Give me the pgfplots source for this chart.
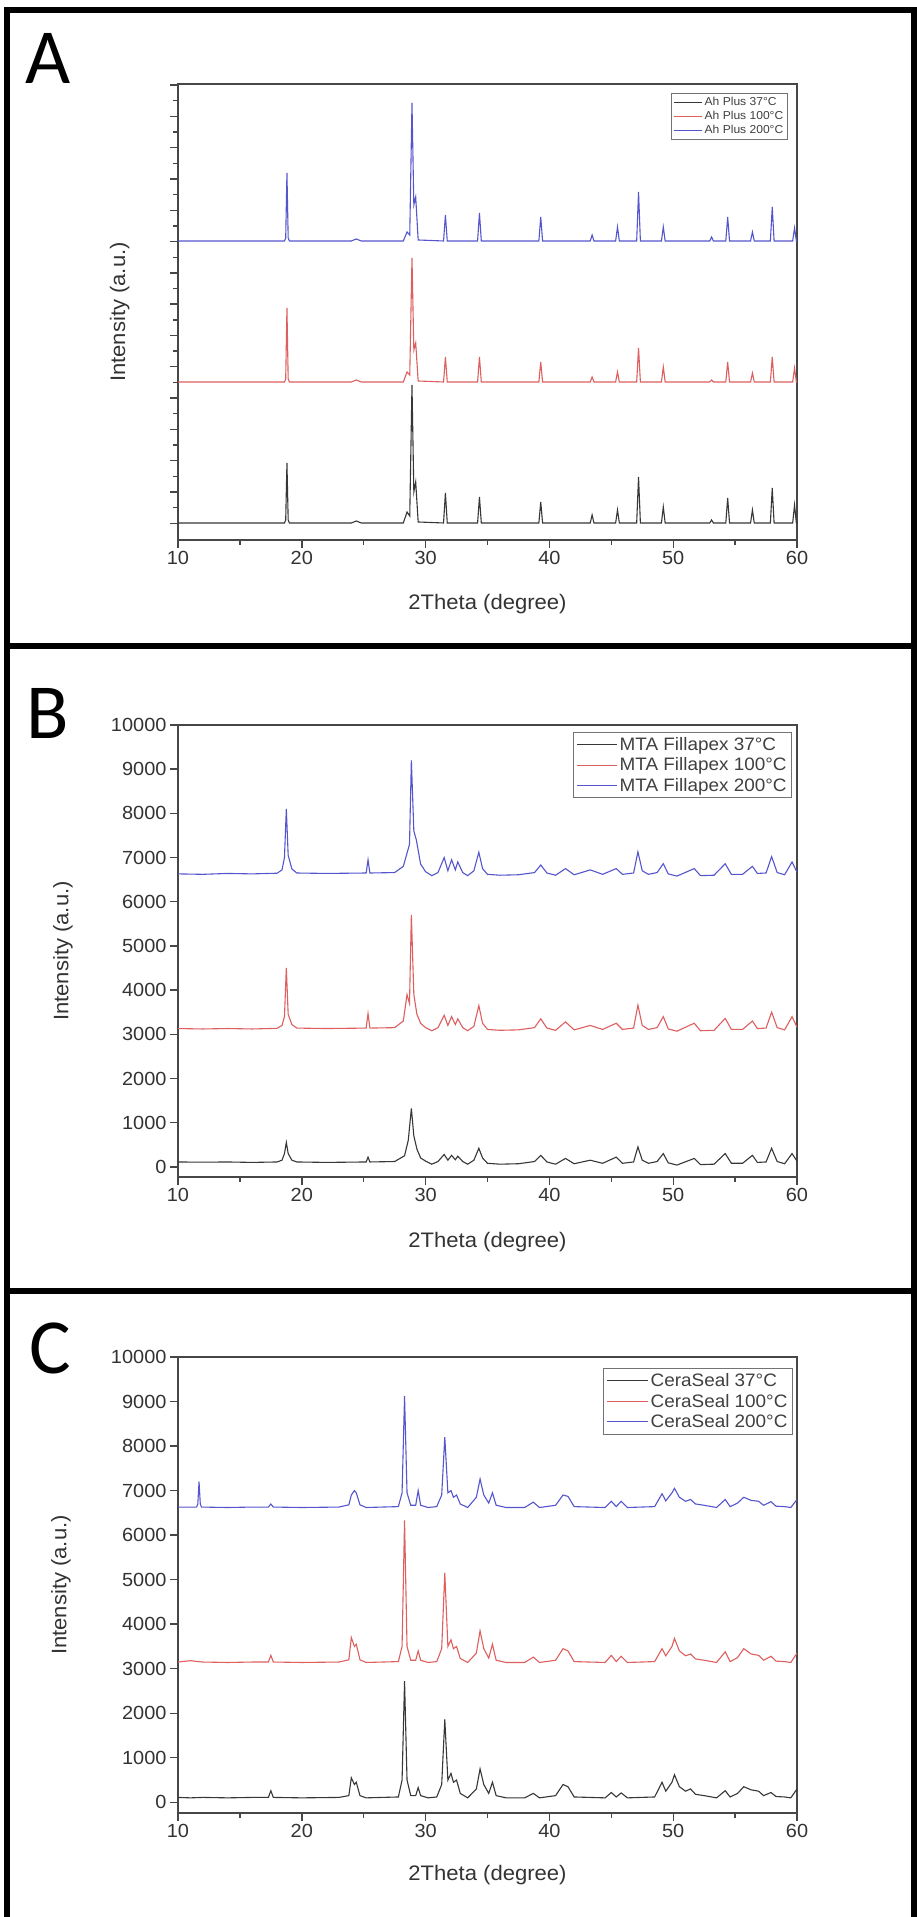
\documentclass[border=0pt]{standalone}
\usepackage{fontspec}
\setmainfont{Liberation Sans}[FakeStretch=1.05]
\newfontfamily\lblfont{Carlito}
\usepackage{pgfplots}
\pgfplotsset{compat=1.18}
\definecolor{mblack}{RGB}{55,55,55}
\definecolor{mred}{RGB}{222,95,95}
\definecolor{mblue}{RGB}{85,85,205}
\pgfplotsset{
  xrd/.style={
    scale only axis, width=619pt,
    xmin=10, xmax=60, xtick={10,20,...,60}, minor x tick num=1,
    tick align=outside, tick pos=left,
    major tick length=8pt, minor tick length=5pt,
    axis line style={line width=1.6pt, black!72},
    tick style={line width=1.4pt, black!72},
    ticklabel style={font=\fontsize{19}{21}\selectfont, text=black!80},
    scaled y ticks=false, scaled x ticks=false,
    /pgf/number format/assume math mode=true,
    /pgf/number format/1000 sep={},
    xlabel={2Theta (degree)}, ylabel={Intensity (a.u.)},
    label style={font=\fontsize{21}{24}\selectfont, text=black!80},
    legend cell align=left,
  },
  s1/.style={mblack, line width=1.1pt},
  s2/.style={mred, line width=1.1pt},
  s3/.style={mblue, line width=1.1pt},
}
\begin{document}
\begin{tikzpicture}[x=1pt,y=1pt]
\useasboundingbox (0,0) rectangle (917,1917);
\fill[white] (0,0) rectangle (917,1917);
% panel borders
\draw[line width=6pt] (7,1907) rectangle (914,1271);
\draw[line width=6pt] (7,1271) rectangle (914,626);
\draw[line width=6pt] (7,626) -- (7,-10) (914,626) -- (914,-10);
\node[font=\lblfont\fontsize{78}{80}\selectfont] at (48,1859) {A};
\node[font=\lblfont\fontsize{78}{80}\selectfont] at (48,1204) {B};
\node[font=\lblfont\fontsize{78}{80}\selectfont] at (50,569) {C};

% ---------------- Panel A ----------------
\begin{axis}[xrd, at={(178pt,1377pt)}, anchor=south west, height=456pt,
  ymin=0, ymax=456,
  ytick={16.7,48.0,...,440}, minor y tick num=1, yticklabels={},
  xlabel style={at={(axis description cs:0.5,-0.14)}, anchor=center},
  ylabel style={at={(axis description cs:-0.094,0.5)}, anchor=center},
  legend style={at={(0.985,0.980)}, anchor=north east, draw=black!55, line width=0.8pt,
    font=\fontsize{11.5}{14}\selectfont, text=black!75, inner sep=2pt, row sep=0pt},
  legend image code/.code={\draw[#1, line width=0.8pt] (0pt,0pt) -- (28pt,0pt);},
]
\addplot[s1] coordinates {(10,17)(18.6,17)(18.7,20)(18.8,77)(18.9,20)(19.0,17)(24.0,17)(24.4,19)(24.8,17)(28.2,17)(28.5,28)(28.72,24)(28.9,155)(29.05,48)(29.2,58)(29.4,18)(31.45,17)(31.6,47)(31.75,17)(34.2,17)(34.35,43)(34.5,17)(39.15,17)(39.3,38)(39.45,17)(43.3,17)(43.45,25)(43.6,17)(45.35,17)(45.5,30)(45.65,17)(47.05,17)(47.2,63)(47.35,17)(49.05,17)(49.2,33)(49.35,17)(52.95,17)(53.1,20)(53.25,17)(54.25,17)(54.4,42)(54.55,17)(56.25,17)(56.4,30)(56.55,17)(57.85,17)(58.0,52)(58.15,17)(59.65,17)(59.8,35)(59.95,17)(60,17)};
\addlegendentry{Ah Plus 37°C}
\addplot[s2] coordinates {(10,158)(18.6,158)(18.7,161)(18.8,232)(18.9,161)(19.0,158)(24.0,158)(24.4,160)(24.8,158)(28.2,158)(28.5,168)(28.72,165)(28.9,282)(29.05,190)(29.2,197)(29.4,159)(31.45,158)(31.6,183)(31.75,158)(34.2,158)(34.35,183)(34.5,158)(39.15,158)(39.3,178)(39.45,158)(43.3,158)(43.45,163)(43.6,158)(45.35,158)(45.5,168)(45.65,158)(47.05,158)(47.2,192)(47.35,158)(49.05,158)(49.2,173)(49.35,158)(52.95,158)(53.1,160)(53.25,158)(54.25,158)(54.4,178)(54.55,158)(56.25,158)(56.4,167)(56.55,158)(57.85,158)(58.0,183)(58.15,158)(59.65,158)(59.8,172)(59.95,158)(60,158)};
\addlegendentry{Ah Plus 100°C}
\addplot[s3] coordinates {(10,299)(18.6,299)(18.7,302)(18.8,367)(18.9,302)(19.0,299)(24.0,299)(24.4,301)(24.8,299)(28.2,299)(28.5,308)(28.72,305)(28.9,437)(29.05,335)(29.2,343)(29.4,300)(31.45,299)(31.6,325)(31.75,299)(34.2,299)(34.35,327)(34.5,299)(39.15,299)(39.3,323)(39.45,299)(43.3,299)(43.45,305)(43.6,299)(45.35,299)(45.5,313)(45.65,299)(47.05,299)(47.2,348)(47.35,299)(49.05,299)(49.2,313)(49.35,299)(52.95,299)(53.1,303)(53.25,299)(54.25,299)(54.4,323)(54.55,299)(56.25,299)(56.4,308)(56.55,299)(57.85,299)(58.0,333)(58.15,299)(59.65,299)(59.8,312)(59.95,299)(60,299)};
\addlegendentry{Ah Plus 200°C}
\end{axis}

% ---------------- Panel B ----------------
\begin{axis}[xrd, at={(178pt,740pt)}, anchor=south west, height=452pt,
  ymin=-230, ymax=10000, ytick={0,1000,...,10000},
  xlabel style={at={(axis description cs:0.5,-0.144)}, anchor=center},
  ylabel style={at={(axis description cs:-0.186,0.5)}, anchor=center},
  legend style={at={(0.992,0.985)}, anchor=north east, draw=black!55, line width=1pt,
    font=\fontsize{18}{21}\selectfont, text=black!75, inner sep=3pt, row sep=2pt},
  legend image code/.code={\draw[#1, line width=1pt] (0pt,0pt) -- (40pt,0pt);},
]
\addplot[s1] coordinates {(10,110)(12,105)(14,110)(16,100)(18,110)(18.4,150)(18.6,300)(18.75,550)(18.9,300)(19.2,150)(19.6,110)(22,100)(25.2,110)(25.35,220)(25.5,110)(27.5,120)(28.3,250)(28.6,600)(28.85,1320)(29.05,700)(29.3,400)(29.6,200)(30,130)(30.5,60)(31,120)(31.5,280)(31.8,150)(32.1,260)(32.4,160)(32.6,240)(33,120)(33.4,60)(33.9,150)(34.3,420)(34.6,200)(35,80)(36,60)(37.5,70)(38.8,120)(39.3,260)(39.8,110)(40.5,60)(41.3,190)(42,70)(43.3,150)(44.3,80)(45.4,220)(45.9,80)(46.8,110)(47.15,450)(47.5,150)(48,80)(48.7,120)(49.2,300)(49.6,90)(50.3,40)(51.7,190)(52.2,50)(53.3,60)(54.2,300)(54.7,80)(55.6,80)(56.4,260)(56.8,100)(57.5,110)(57.95,420)(58.4,120)(59,70)(59.6,300)(60,130)};
\addlegendentry{MTA Fillapex 37°C}
\addplot[s2] coordinates {(10,3130)(12,3120)(14,3130)(16,3120)(18,3135)(18.4,3200)(18.6,3400)(18.75,4500)(18.9,3450)(19.2,3220)(19.6,3140)(22,3130)(25.2,3140)(25.35,3470)(25.5,3140)(27.5,3150)(28.2,3300)(28.5,3900)(28.7,3700)(28.85,5700)(29.05,3900)(29.3,3450)(29.6,3250)(30,3150)(30.5,3080)(31,3150)(31.5,3430)(31.8,3200)(32.1,3400)(32.4,3220)(32.6,3350)(33,3150)(33.4,3080)(33.9,3180)(34.3,3650)(34.6,3250)(35,3110)(36,3090)(37.5,3100)(38.8,3150)(39.3,3350)(39.8,3140)(40.5,3090)(41.3,3280)(42,3100)(43.3,3200)(44.3,3110)(45.4,3250)(45.9,3110)(46.8,3140)(47.15,3660)(47.5,3200)(48,3110)(48.7,3150)(49.2,3400)(49.6,3120)(50.3,3070)(51.7,3250)(52.2,3080)(53.3,3090)(54.2,3360)(54.7,3110)(55.6,3110)(56.4,3300)(56.8,3130)(57.5,3140)(57.95,3500)(58.4,3150)(59,3100)(59.6,3400)(60,3160)};
\addlegendentry{MTA Fillapex 100°C}
\addplot[s3] coordinates {(10,6630)(12,6620)(14,6640)(16,6630)(18,6645)(18.4,6720)(18.6,7000)(18.75,8100)(18.9,7050)(19.2,6740)(19.6,6650)(22,6640)(25.2,6650)(25.35,6950)(25.5,6650)(27.5,6660)(28.2,6800)(28.5,7100)(28.7,7300)(28.85,9200)(29.05,7600)(29.25,7400)(29.6,6850)(30,6680)(30.5,6590)(31,6660)(31.5,7000)(31.8,6700)(32.1,6950)(32.4,6720)(32.6,6900)(33,6660)(33.4,6590)(33.9,6700)(34.3,7120)(34.6,6750)(35,6620)(36,6600)(37.5,6610)(38.8,6660)(39.3,6830)(39.8,6650)(40.5,6600)(41.3,6750)(42,6610)(43.3,6720)(44.3,6620)(45.4,6750)(45.9,6620)(46.8,6650)(47.15,7130)(47.5,6700)(48,6620)(48.7,6660)(49.2,6860)(49.6,6630)(50.3,6580)(51.7,6750)(52.2,6590)(53.3,6600)(54.2,6860)(54.7,6620)(55.6,6620)(56.4,6800)(56.8,6640)(57.5,6650)(57.95,7020)(58.4,6660)(59,6610)(59.6,6900)(60,6670)};
\addlegendentry{MTA Fillapex 200°C}
\end{axis}

% ---------------- Panel C ----------------
\begin{axis}[xrd, at={(178pt,104pt)}, anchor=south west, height=456pt,
  ymin=-240, ymax=10000, ytick={0,1000,...,10000},
  xlabel style={at={(axis description cs:0.5,-0.136)}, anchor=center},
  ylabel style={at={(axis description cs:-0.189,0.5)}, anchor=center},
  legend style={at={(0.9935,0.976)}, anchor=north east, draw=black!55, line width=1pt,
    font=\fontsize{18}{21}\selectfont, text=black!75, inner sep=3pt, row sep=2pt},
  legend image code/.code={\draw[#1, line width=1pt] (0pt,0pt) -- (41pt,0pt);},
]
\addplot[s1] coordinates {(10,110)(11,100)(12,110)(14,100)(16,110)(17.3,110)(17.5,260)(17.7,110)(20,100)(23,110)(23.8,150)(24.0,550)(24.25,400)(24.4,450)(24.7,150)(25.2,100)(27.8,120)(28.1,500)(28.3,2720)(28.5,500)(28.8,150)(29.2,150)(29.4,330)(29.6,150)(30.2,100)(30.9,120)(31.3,400)(31.55,1860)(31.8,500)(32.05,650)(32.25,450)(32.5,500)(32.8,200)(33.4,100)(34.1,300)(34.4,750)(34.7,400)(35.1,200)(35.4,450)(35.7,150)(36.5,100)(38,100)(38.7,200)(39.2,100)(40.5,150)(41.1,400)(41.5,350)(42,120)(44.5,100)(45.0,220)(45.4,120)(45.8,210)(46.3,100)(48.5,120)(49.1,450)(49.4,250)(49.9,450)(50.1,620)(50.5,350)(51,250)(51.4,300)(51.8,180)(52.5,150)(53.5,100)(54.2,260)(54.6,120)(55.2,200)(55.7,350)(56.3,280)(56.9,250)(57.3,150)(57.9,220)(58.3,130)(59,120)(59.5,100)(60,300)};
\addlegendentry{CeraSeal 37°C}
\addplot[s2] coordinates {(10,3150)(11,3180)(12,3150)(14,3140)(16,3150)(17.3,3150)(17.5,3300)(17.7,3150)(20,3140)(23,3150)(23.8,3200)(24.0,3700)(24.25,3500)(24.4,3550)(24.7,3200)(25.2,3140)(27.8,3160)(28.1,3500)(28.3,6330)(28.5,3500)(28.8,3190)(29.2,3190)(29.4,3400)(29.6,3190)(30.2,3140)(30.9,3160)(31.3,3450)(31.55,5150)(31.8,3500)(32.05,3650)(32.25,3450)(32.5,3500)(32.8,3230)(33.4,3140)(34.1,3350)(34.4,3850)(34.7,3450)(35.1,3240)(35.4,3550)(35.7,3190)(36.5,3140)(38,3140)(38.7,3260)(39.2,3140)(40.5,3190)(41.1,3450)(41.5,3400)(42,3160)(44.5,3140)(45.0,3300)(45.4,3160)(45.8,3280)(46.3,3140)(48.5,3160)(49.1,3450)(49.4,3290)(49.9,3500)(50.1,3680)(50.5,3400)(51,3290)(51.4,3330)(51.8,3220)(52.5,3190)(53.5,3140)(54.2,3380)(54.6,3160)(55.2,3250)(55.7,3450)(56.3,3330)(56.9,3300)(57.3,3190)(57.9,3280)(58.3,3170)(59,3160)(59.5,3140)(60,3350)};
\addlegendentry{CeraSeal 100°C}
\addplot[s3] coordinates {(10,6630)(11.5,6630)(11.6,6700)(11.7,7200)(11.8,6700)(11.9,6630)(14,6620)(16,6630)(17.3,6630)(17.5,6700)(17.7,6630)(20,6620)(23,6630)(23.8,6680)(24.0,6900)(24.25,7000)(24.4,6950)(24.7,6680)(25.2,6620)(27.8,6640)(28.1,6950)(28.3,9120)(28.5,6950)(28.8,6670)(29.2,6670)(29.4,7000)(29.6,6670)(30.2,6620)(30.9,6640)(31.3,6900)(31.55,8200)(31.8,6950)(32.05,7000)(32.25,6850)(32.5,6900)(32.8,6700)(33.4,6620)(34.1,6850)(34.4,7260)(34.7,6900)(35.1,6720)(35.4,6950)(35.7,6670)(36.5,6620)(38,6620)(38.7,6740)(39.2,6620)(40.5,6670)(41.1,6900)(41.5,6870)(42,6640)(44.5,6620)(45.0,6760)(45.4,6640)(45.8,6760)(46.3,6620)(48.5,6640)(49.1,6930)(49.4,6770)(49.9,6950)(50.1,7050)(50.5,6850)(51,6760)(51.4,6800)(51.8,6700)(52.5,6670)(53.5,6620)(54.2,6800)(54.6,6640)(55.2,6720)(55.7,6850)(56.3,6780)(56.9,6760)(57.3,6670)(57.9,6750)(58.3,6650)(59,6640)(59.5,6620)(60,6800)};
\addlegendentry{CeraSeal 200°C}
\end{axis}
\end{tikzpicture}
\end{document}
